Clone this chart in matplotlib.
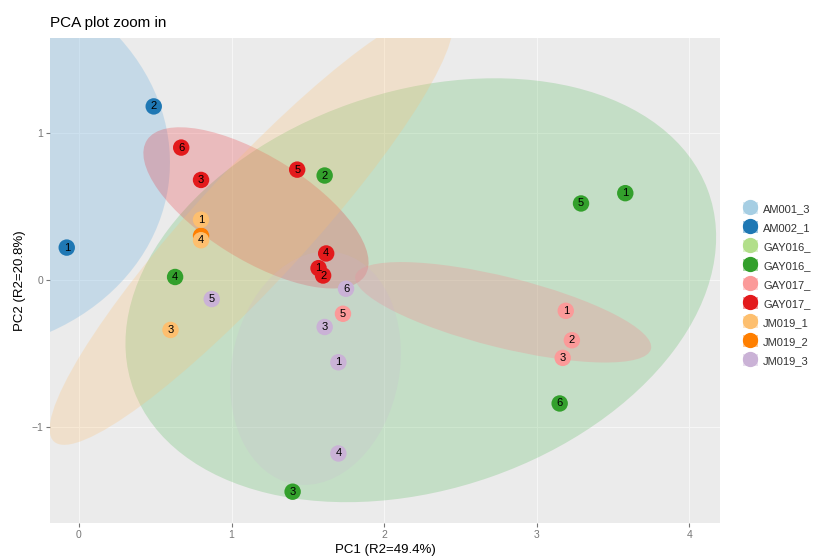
import matplotlib
matplotlib.use("Agg")
import matplotlib.pyplot as plt
from matplotlib.patches import Ellipse, Patch
from matplotlib.lines import Line2D

plt.rcParams['font.family'] = ['Liberation Sans', 'DejaVu Sans']

# groups, colours (ggplot "Paired"-like)
groups = ['AM001_3', 'AM002_1', 'GAY016_', 'GAY016_', 'GAY017_', 'GAY017_',
          'JM019_1', 'JM019_2', 'JM019_3']
colors = ['#A6CEE3', '#1F78B4', '#B2DF8A', '#33A02C', '#FB9A99', '#E31A1C',
          '#FDBF6F', '#FF7F00', '#CAB2D6']
# ellipse fills look a little brighter than the point colours
ell_colors = ['#8EC0E2', None, None, '#3CB043', '#F48A8E', '#E8323A',
              '#FDBF6F', None, '#CAB2D6']

# sample points per group (index into groups)
am002_x = [-0.08, 0.49]
am002_y = [0.22, 1.18]
am002_lab = ['1', '2']

gay016_x = [3.58, 1.61, 1.40, 0.63, 3.29, 3.15]
gay016_y = [0.59, 0.71, -1.44, 0.02, 0.52, -0.84]
gay016_lab = ['1', '2', '3', '4', '5', '6']

gay017a_x = [3.19, 3.23, 3.17, 1.73]
gay017a_y = [-0.21, -0.41, -0.53, -0.23]
gay017a_lab = ['1', '2', '3', '5']

gay017b_x = [1.57, 1.60, 0.80, 1.62, 1.43, 0.67]
gay017b_y = [0.08, 0.03, 0.68, 0.18, 0.75, 0.90]
gay017b_lab = ['1', '2', '3', '4', '5', '6']

jm019_1_x = [0.80, 0.60, 0.80]
jm019_1_y = [0.41, -0.34, 0.27]
jm019_1_lab = ['1', '3', '4']

# JM019_2 sits right under JM019_1 "4", its label is hidden
jm019_2_x = [0.80]
jm019_2_y = [0.30]
jm019_2_lab = ['']

jm019_3_x = [1.70, 1.61, 1.70, 0.87, 1.75]
jm019_3_y = [-0.56, -0.32, -1.18, -0.13, -0.06]
jm019_3_lab = ['1', '3', '4', '5', '6']

points = [
    (1, am002_x, am002_y, am002_lab),
    (3, gay016_x, gay016_y, gay016_lab),
    (4, gay017a_x, gay017a_y, gay017a_lab),
    (5, gay017b_x, gay017b_y, gay017b_lab),
    (7, jm019_2_x, jm019_2_y, jm019_2_lab),
    (6, jm019_1_x, jm019_1_y, jm019_1_lab),
    (8, jm019_3_x, jm019_3_y, jm019_3_lab),
]

# confidence ellipses (estimated shape): group, centre, width, height, angle, alpha
ell_group = [0, 3, 5, 4, 6, 8]
ell_cx = [-0.95, 2.24, 1.16, 2.78, 1.13, 1.55]
ell_cy = [0.85, -0.07, 0.49, -0.22, 0.36, -0.60]
ell_w = [3.1, 4.0, 1.70, 2.0, 3.9, 1.6]
ell_h = [2.7, 2.7, 0.70, 0.48, 0.75, 1.1]
ell_ang = [-8, 20, -33, -14.5, 48.5, 80]
ell_alpha = [0.4, 0.22, 0.26, 0.3, 0.25, 0.18]

fig = plt.figure(figsize=(8.19, 5.57), dpi=100)
ax = fig.add_axes([0.061, 0.061, 0.818, 0.871])
ax.set_facecolor('#EBEBEB')
for s in ax.spines.values():
    s.set_visible(False)

ax.set_xlim(-0.19, 4.20)
ax.set_ylim(-1.653, 1.646)
ax.set_xticks([0, 1, 2, 3, 4])
ax.set_yticks([-1, 0, 1])
ax.grid(True, which='major', color='#F6F6F6', lw=0.8, zorder=0)
ax.set_axisbelow(True)
ax.tick_params(which='major', length=3, color='#777777', labelsize=7.5, labelcolor='#777777', pad=2)

for g, cx, cy, w, h, a, al in zip(ell_group, ell_cx, ell_cy, ell_w, ell_h, ell_ang, ell_alpha):
    ax.add_patch(Ellipse((cx, cy), w, h, angle=a, facecolor=ell_colors[g], alpha=al,
                         edgecolor='none', zorder=1))

for g, xs, ys, labs in points:
    ax.scatter(xs, ys, s=140, color=colors[g], edgecolors='none', zorder=3)
    for x, y, t in zip(xs, ys, labs):
        if t:
            ax.text(x, y, t, fontsize=8, color='black', ha='center', va='center', zorder=4)

ax.set_xlabel('PC1 (R2=49.4%)', fontsize=9.5, labelpad=3)
ax.set_ylabel('PC2 (R2=20.8%)', fontsize=9.5, labelpad=4)
ax.set_title('PCA plot zoom in', fontsize=11, loc='left', pad=8)

handles = []
for c in colors:
    handles.append((Patch(facecolor=c, alpha=0.4, edgecolor='none'),
                    Line2D([], [], marker='o', ls='none', color=c, markersize=10)))
fig.legend(handles, groups, loc='center left', bbox_to_anchor=(0.902, 0.49),
           frameon=False, fontsize=8, labelcolor='#333333', handlelength=1.3,
           handleheight=1.3, handletextpad=0.5, labelspacing=0.62, borderaxespad=0)

fig.savefig('out.png', dpi=100)
